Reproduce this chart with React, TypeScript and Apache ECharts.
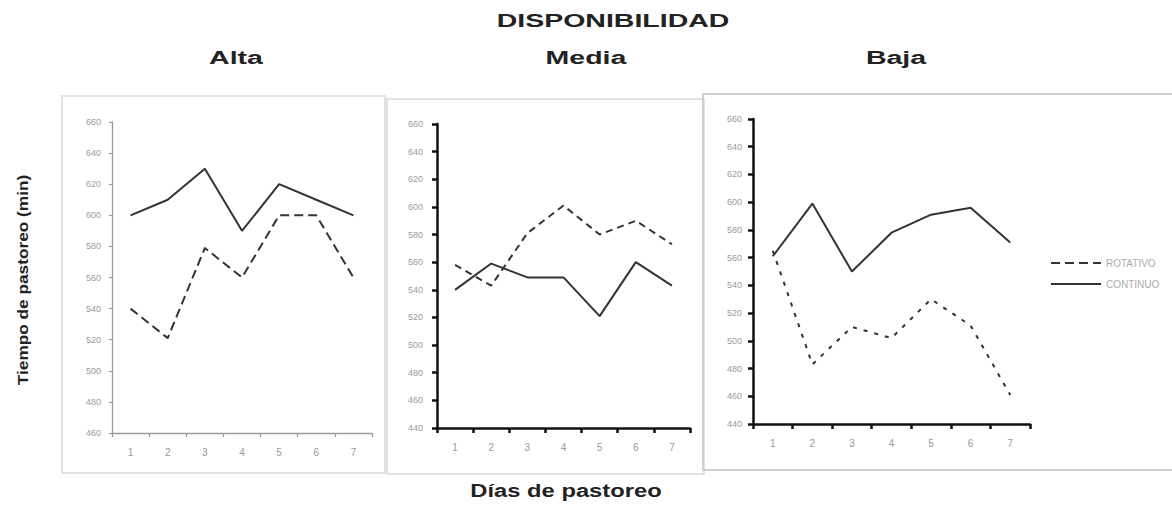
import React, { useEffect, useRef } from "react";
import * as echarts from "echarts";

const days = ["1", "2", "3", "4", "5", "6", "7"];
const panelTitles = ["Alta", "Media", "Baja"];
const seriesNames = ["ROTATIVO", "CONTINUO"];

// Tiempo de pastoreo (min)
const altaRotativo = [540, 521, 579, 560, 600, 600, 560];
const altaContinuo = [600, 610, 630, 590, 620, 610, 600];
const mediaRotativo = [558, 543, 581, 601, 580, 590, 573];
const mediaContinuo = [540, 559, 549, 549, 521, 560, 543];
const bajaRotativo = [565, 483, 510, 502, 530, 511, 461];
const bajaContinuo = [561, 599, 550, 578, 591, 596, 571];

const altaAxis = { min: 460, max: 660, interval: 20 };
const otherAxis = { min: 440, max: 660, interval: 20 };

export default function App() {
  const ref = useRef<HTMLDivElement>(null);

  useEffect(() => {
    if (!ref.current) return;
    const chart = echarts.init(ref.current, null, { renderer: "svg" });

    const grids = [
      { left: 112, top: 122, width: 260, height: 311 },
      { left: 437, top: 124, width: 253, height: 304 },
      { left: 753, top: 119, width: 277, height: 305 },
    ];

    const thin = grids.map((_, i) => i === 0);

    const xAxes = grids.map((_, i) => ({
      type: "category",
      gridIndex: i,
      data: days,
      boundaryGap: true,
      axisLine: {
        lineStyle: { color: thin[i] ? "#9a9a9a" : "#111", width: thin[i] ? 1.3 : 2.5 },
      },
      axisTick: {
        show: true,
        length: thin[i] ? 4 : 5,
        lineStyle: { color: thin[i] ? "#9a9a9a" : "#111", width: thin[i] ? 1.2 : 2.5 },
      },
      axisLabel: { color: "#999", fontSize: 10, margin: 14, fontFamily: "Liberation Sans" },
      splitLine: { show: false },
    }));

    const yAxes = grids.map((_, i) => {
      const a = i === 0 ? altaAxis : otherAxis;
      return {
        type: "value",
        gridIndex: i,
        min: a.min,
        max: a.max,
        interval: a.interval,
        axisLine: {
          show: true,
          lineStyle: { color: thin[i] ? "#9a9a9a" : "#111", width: thin[i] ? 1.3 : 2.5 },
        },
        axisTick: {
          show: true,
          length: thin[i] ? 3 : 5,
          lineStyle: { color: thin[i] ? "#9a9a9a" : "#111", width: thin[i] ? 1.2 : 2.5 },
        },
        axisLabel: {
          color: "#9a9a9a",
          fontSize: 9,
          margin: i === 1 ? 14 : 11,
          fontFamily: "Liberation Sans",
        },
        splitLine: { show: false },
      };
    });

    const mk = (name: string, data: number[], idx: number, dash: any) => ({
      type: "line",
      name,
      xAxisIndex: idx,
      yAxisIndex: idx,
      data,
      symbol: "none",
      lineStyle: { color: "#333", width: 2, type: dash },
      itemStyle: { color: "#333" },
    });

    const series = [
      mk(seriesNames[0], altaRotativo, 0, [9, 5]),
      mk(seriesNames[1], altaContinuo, 0, "solid"),
      mk(seriesNames[0], mediaRotativo, 1, [7, 5]),
      mk(seriesNames[1], mediaContinuo, 1, "solid"),
      mk(seriesNames[0], bajaRotativo, 2, [4, 7]),
      mk(seriesNames[1], bajaContinuo, 2, "solid"),
    ];

    const titleCenters = [236, 586, 896];

    const graphic: any[] = [
      { type: "rect", shape: { x: 62, y: 96, width: 323, height: 377 }, style: { fill: "none", stroke: "#d9d9d9", lineWidth: 1.5 }, z: -1 },
      { type: "rect", shape: { x: 387, y: 99, width: 317, height: 375 }, style: { fill: "none", stroke: "#d9d9d9", lineWidth: 1.5 }, z: -1 },
      { type: "rect", shape: { x: 703, y: 94, width: 480, height: 376 }, style: { fill: "none", stroke: "#d0d0d0", lineWidth: 2 }, z: -1 },
      {
        type: "text",
        x: 613,
        y: 20,
        scaleX: 1.5,
        style: {
          text: "DISPONIBILIDAD",
          font: "bold 19px 'Liberation Sans'",
          fill: "#222",
          textAlign: "center",
          textVerticalAlign: "middle",
        },
      },
      ...panelTitles.map((t, i) => ({
        type: "text",
        x: titleCenters[i],
        y: 57,
        scaleX: 1.5,
        style: {
          text: t,
          font: "bold 19px 'Liberation Sans'",
          fill: "#222",
          textAlign: "center",
          textVerticalAlign: "middle",
        },
      })),
      {
        type: "text",
        x: 22,
        y: 280,
        rotation: Math.PI / 2,
        scaleX: 1.15,
        style: {
          text: "Tiempo de pastoreo (min)",
          font: "bold 15px 'Liberation Sans'",
          fill: "#222",
          textAlign: "center",
          textVerticalAlign: "middle",
        },
      },
      {
        type: "text",
        x: 566,
        y: 491,
        scaleX: 1.32,
        style: {
          text: "Días de pastoreo",
          font: "bold 18px 'Liberation Sans'",
          fill: "#222",
          textAlign: "center",
          textVerticalAlign: "middle",
        },
      },
    ];

    chart.setOption({
      animation: false,
      backgroundColor: "#fff",
      grid: grids,
      xAxis: xAxes,
      yAxis: yAxes,
      series,
      graphic,
      legend: {
        data: seriesNames,
        orient: "vertical",
        left: 1045,
        top: 253,
        itemWidth: 50,
        itemHeight: 10,
        itemGap: 11,
        itemStyle: { color: "transparent", borderColor: "transparent", borderWidth: 0 },
        textStyle: { color: "#aaa", fontSize: 10, fontFamily: "Liberation Sans" },
        selectedMode: false,
      },
    });

    return () => chart.dispose();
  }, []);

  return (
    <div
      ref={ref}
      style={{ position: "absolute", left: 0, top: 0, width: 1172, height: 507 }}
    />
  );
}
